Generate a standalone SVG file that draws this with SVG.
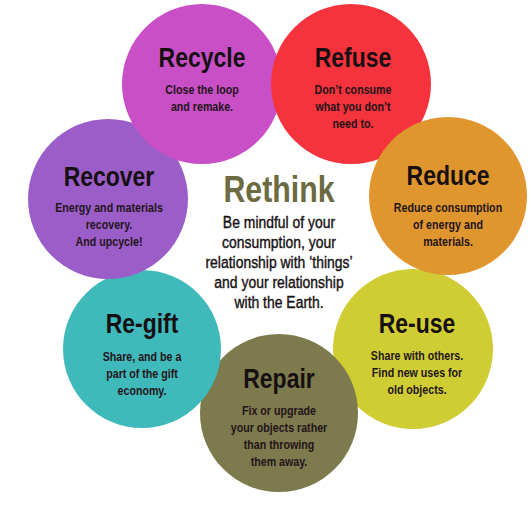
<svg xmlns="http://www.w3.org/2000/svg" width="531" height="528" viewBox="0 0 531 528">
<style>
text{font-family:"Liberation Sans",Arial,sans-serif;text-anchor:middle;fill:#161012}
.t{font-size:28px;font-weight:bold}
.s{font-size:13px;font-weight:bold;fill:#231419}
.rt{font-size:37px;font-weight:bold;fill:#6c6b42}
.b{font-size:17px;stroke:#161012;stroke-width:0.4}
</style>
<rect width="531" height="528" fill="#ffffff"/>
<g id="reuse"><circle cx="413" cy="349" r="80" fill="#cfcc34"/>
<g transform="translate(417 0) scale(0.82 1)">
<text class="t" x="0" y="333">Re-use</text>
<text class="s" x="0" y="360">Share with others.</text>
<text class="s" x="0" y="377">Find new uses for</text>
<text class="s" x="0" y="394">old objects.</text></g></g>
<g id="repair"><circle cx="279" cy="413" r="79" fill="#7d7a4d"/>
<g transform="translate(279 0) scale(0.82 1)">
<text class="t" x="0" y="388">Repair</text>
<text class="s" x="0" y="415">Fix or upgrade</text>
<text class="s" x="0" y="432">your objects rather</text>
<text class="s" x="0" y="449">than throwing</text>
<text class="s" x="0" y="466">them away.</text></g></g>
<g id="regift"><circle cx="142" cy="349" r="79" fill="#40b9bb"/>
<g transform="translate(142 0) scale(0.82 1)">
<text class="t" x="0" y="333">Re-gift</text>
<text class="s" x="0" y="361">Share, and be a</text>
<text class="s" x="0" y="378">part of the gift</text>
<text class="s" x="0" y="395">economy.</text></g></g>
<g id="recover"><circle cx="108" cy="199" r="80" fill="#9b5ec9"/>
<g transform="translate(109 0) scale(0.82 1)">
<text class="t" x="0" y="186">Recover</text>
<text class="s" x="0" y="212">Energy and materials</text>
<text class="s" x="0" y="229">recovery.</text>
<text class="s" x="0" y="246">And upcycle!</text></g></g>
<g id="recycle"><circle cx="202" cy="84" r="80" fill="#c84fc6"/>
<g transform="translate(202 0) scale(0.82 1)">
<text class="t" x="0" y="67">Recycle</text>
<text class="s" x="0" y="94">Close the loop</text>
<text class="s" x="0" y="111">and remake.</text></g></g>
<g id="refuse"><circle cx="351" cy="84" r="80" fill="#f5333c"/>
<g transform="translate(353 0) scale(0.82 1)">
<text class="t" x="0" y="67">Refuse</text>
<text class="s" x="0" y="94">Don’t consume</text>
<text class="s" x="0" y="111">what you don’t</text>
<text class="s" x="0" y="128">need to.</text></g></g>
<g id="reduce"><circle cx="448" cy="196" r="79" fill="#e0962f"/>
<g transform="translate(448 0) scale(0.82 1)">
<text class="t" x="0" y="185">Reduce</text>
<text class="s" x="0" y="212">Reduce consumption</text>
<text class="s" x="0" y="229">of energy and</text>
<text class="s" x="0" y="246">materials.</text></g></g>
<g id="rethink"><g transform="translate(279 0) scale(0.82 1)">
<text class="rt" x="0" y="202">Rethink</text>
<text class="b" x="0" y="228">Be mindful of your</text>
<text class="b" x="0" y="248">consumption, your</text>
<text class="b" x="0" y="268">relationship with ‘things’</text>
<text class="b" x="0" y="288">and your relationship</text>
<text class="b" x="0" y="308">with the Earth.</text></g></g>
<g id="connectors"></g>
</svg>
